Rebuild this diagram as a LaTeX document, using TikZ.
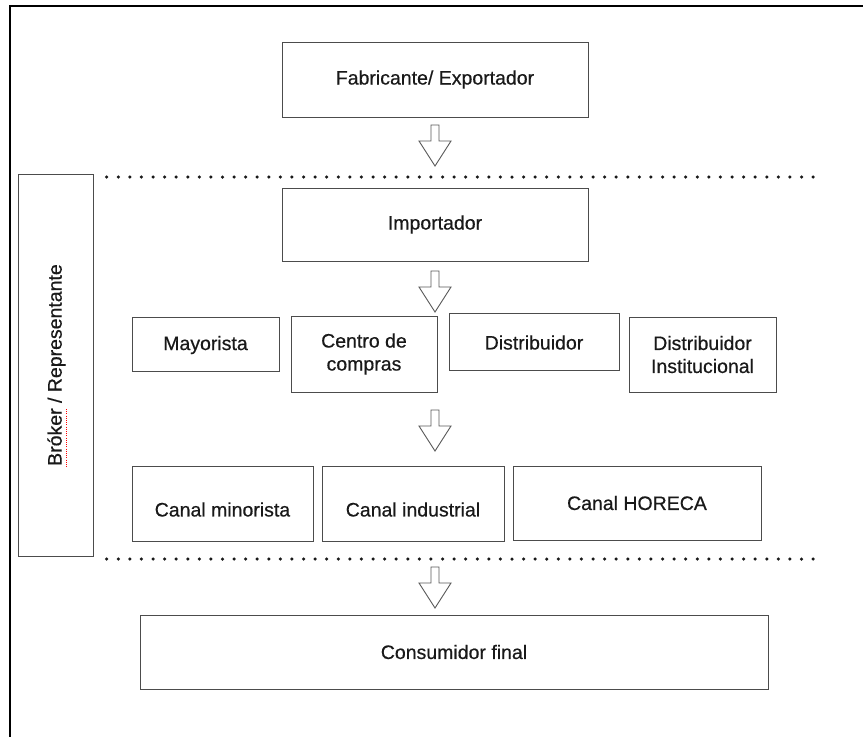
\documentclass[tikz,border=0pt]{standalone}
\usepackage{fontspec}
\setmainfont[FakeBold=0.5]{Liberation Sans}
\begin{document}
\begin{tikzpicture}[x=1pt,y=-1pt,
  box/.style={draw=black!70, line width=0.9pt, fill=white, inner sep=0pt, align=center},
  lbl/.style={font=\fontsize{19.5}{23}\selectfont, text=black!90, align=center, inner sep=0pt},
  frameline/.style={draw=black, line width=2pt},
  dotline/.style={draw=black!90, line width=3.5pt, line cap=round, dash pattern=on 0pt off 11.58pt},
  arrowline/.style={draw=black!65, line width=0.9pt, fill=white, line join=miter},
  hollowarrow/.pic={\draw[arrowline] (-4,0) -- (4,0) -- (4,16) -- (16,16) -- (0,41) -- (-16,16) -- (-4,16) -- cycle;}
]
\useasboundingbox (0,0) rectangle (863,737);
\fill[white] (0,0) rectangle (863,737);
% outer frame (open right and bottom)
\draw[frameline] (9.5,737) -- (9.5,6) -- (863,6);

% boxes
\node[box, minimum width=306, minimum height=75] (fab) at (435,79.5) {};
\node[lbl] (fabt) at (fab.center) {Fabricante/ Exportador};
\node[box, minimum width=306, minimum height=73] (imp) at (435,224.5) {};
\node[lbl] (impt) at (imp.center) {Importador};
\node[box, minimum width=75, minimum height=382] (brk) at (55.5,365) {};
\node[lbl, rotate=90] (brkt) at (56.5,365) {Bróker / Representante};
\draw[red, line width=1pt, dash pattern=on 1pt off 1.2pt] (66.5,409) -- (66.5,468);

\node[box, minimum width=147, minimum height=54] (may) at (205.5,344) {};
\node[lbl] (mayt) at ([yshift=-1pt]may.center) {Mayorista};
\node[box, minimum width=146, minimum height=76] (cen) at (364,354) {};
\node[lbl] (cent) at (cen.center) {Centro de\\compras};
\node[box, minimum width=170, minimum height=57] (dis) at (534,341.5) {};
\node[lbl] (dist) at ([yshift=-1pt]dis.center) {Distribuidor};
\node[box, minimum width=147, minimum height=75] (din) at (702.5,354.5) {};
\node[lbl] (dint) at (din.center) {Distribuidor\\Institucional};

\node[box, minimum width=181, minimum height=75] (cmi) at (222.5,503.5) {};
\node[lbl] (cmit) at ([yshift=-6pt]cmi.center) {Canal minorista};
\node[box, minimum width=182, minimum height=75] (cin) at (413,503.5) {};
\node[lbl] (cint) at ([yshift=-6pt]cin.center) {Canal industrial};
\node[box, minimum width=248, minimum height=74] (hor) at (637,503) {};
\node[lbl] (hort) at (hor.center) {Canal HORECA};

\node[box, minimum width=628, minimum height=74] (con) at (454,652) {};
\node[lbl] (cont) at (con.center) {Consumidor final};

% dotted separators
\coordinate (d1a) at (106.7,177);
\coordinate (d1b) at (813.6,177);
\coordinate (d2a) at (106.7,559);
\coordinate (d2b) at (813.6,559);
\draw[dotline] (d1a) -- (d1b);
\draw[dotline] (d2a) -- (d2b);

% hollow block arrows
\coordinate (a1) at (435,125);
\coordinate (a2) at (435,271);
\coordinate (a3) at (435,410);
\coordinate (a4) at (435,567);
\pic at (a1) {hollowarrow};
\pic at (a2) {hollowarrow};
\pic at (a3) {hollowarrow};
\pic at (a4) {hollowarrow};
\end{tikzpicture}
\end{document}
